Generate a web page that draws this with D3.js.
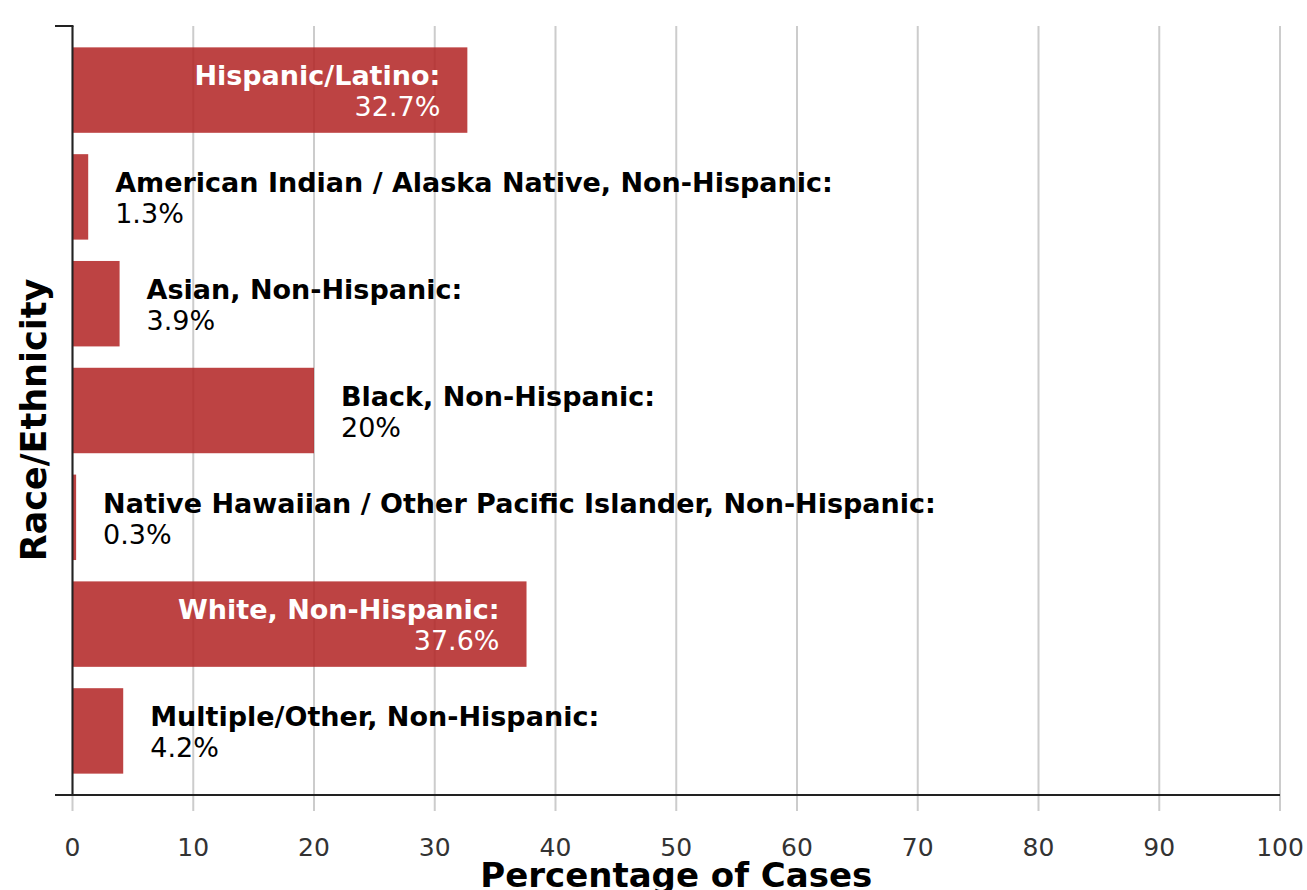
<!DOCTYPE html>
<html><head><meta charset="utf-8">
<script src="https://cdn.jsdelivr.net/npm/d3@7"></script>
<style>body{margin:0;background:#fff;font-family:"DejaVu Sans",Verdana,sans-serif;}</style>
</head><body>
<svg id="c" width="1307" height="890"></svg>
<script>
const categories = ["Hispanic/Latino","American Indian / Alaska Native, Non-Hispanic","Asian, Non-Hispanic","Black, Non-Hispanic","Native Hawaiian / Other Pacific Islander, Non-Hispanic","White, Non-Hispanic","Multiple/Other, Non-Hispanic"];
const values = [32.7, 1.3, 3.9, 20, 0.3, 37.6, 4.2];
const valueLabels = ["32.7%","1.3%","3.9%","20%","0.3%","37.6%","4.2%"];
const xTicks = [0,10,20,30,40,50,60,70,80,90,100];
const insideThreshold = 30;

const svg = d3.select("#c");
const m = {left:72.5, right:1280, top:26, bottom:795};
const x = d3.scaleLinear().domain([0,100]).range([m.left, m.right]);
const y = d3.scaleBand().domain(categories).range([m.top, m.bottom]).paddingInner(0.2).paddingOuter(0.2);

// grid
svg.append("g").selectAll("line").data(xTicks).join("line")
  .attr("x1", d=>x(d)).attr("x2", d=>x(d)).attr("y1", m.top).attr("y2", m.bottom+16)
  .attr("stroke","#cccccc").attr("stroke-width",2);

// bars
svg.append("g").selectAll("rect").data(values).join("rect")
  .attr("x", x(0)).attr("y", (d,i)=>y(categories[i]))
  .attr("width", d=>x(d)-x(0)).attr("height", y.bandwidth())
  .attr("fill","#b22222").attr("fill-opacity",0.85);

// axes
svg.append("line").attr("x1",m.left).attr("x2",m.left).attr("y1",m.top).attr("y2",m.bottom)
  .attr("stroke","#222").attr("stroke-width",2);
svg.append("line").attr("x1",55).attr("x2",m.left+1).attr("y1",m.top).attr("y2",m.top)
  .attr("stroke","#222").attr("stroke-width",2);
svg.append("line").attr("x1",55).attr("x2",m.right).attr("y1",m.bottom).attr("y2",m.bottom)
  .attr("stroke","#222").attr("stroke-width",2);

// x tick labels
svg.append("g").selectAll("text").data(xTicks).join("text")
  .attr("x", d=>x(d)).attr("y", 856).attr("text-anchor","middle")
  .attr("font-size",25).attr("fill","#333").text(d=>d);

// bar labels
const lab = svg.append("g");
values.forEach((v,i)=>{
  const inside = v > insideThreshold;
  const yy = y(categories[i]);
  const tx = inside ? x(v)-27 : x(v)+27;
  const t = lab.append("text")
    .attr("x", tx)
    .attr("text-anchor", inside ? "end" : "start")
    .attr("fill", inside ? "#fff" : "#000")
    .attr("font-size",27);
  t.append("tspan").attr("x", tx).attr("y", yy+38)
    .attr("font-weight","bold").text(categories[i]+":");
  t.append("tspan").attr("x", tx).attr("y", yy+69)
    .text(valueLabels[i]);
});

// axis titles
svg.append("text").attr("x",(m.left+m.right)/2).attr("y",887).attr("text-anchor","middle")
  .attr("font-size",34).attr("font-weight","bold").attr("fill","#000").text("Percentage of Cases");
svg.append("text").attr("transform","translate(46,420) rotate(-90)").attr("text-anchor","middle")
  .attr("font-size",35).attr("font-weight","bold").attr("fill","#000").text("Race/Ethnicity");
</script>
</body></html>
